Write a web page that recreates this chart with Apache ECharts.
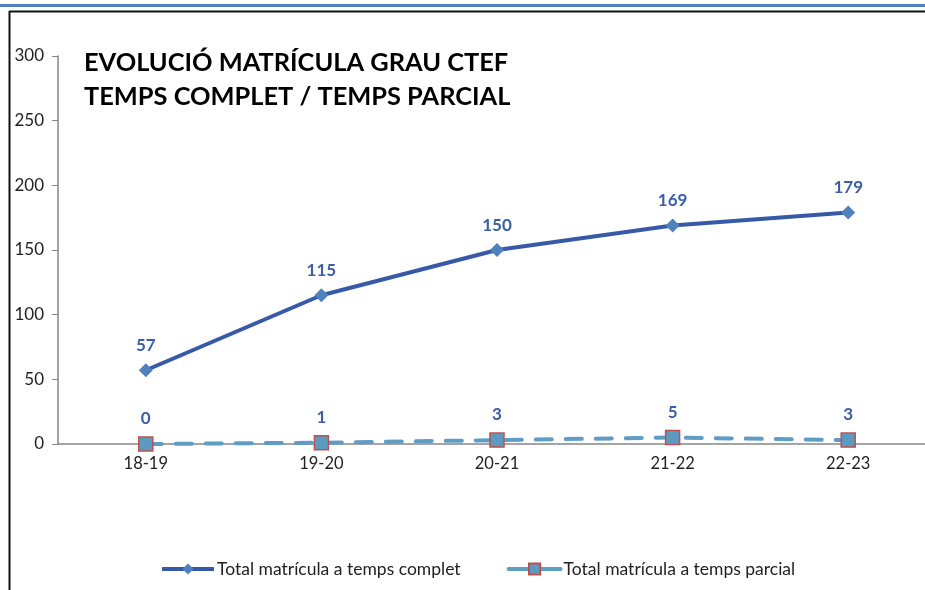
<!DOCTYPE html>
<html>
<head>
    <meta charset="utf-8">
    <title>Evolució matrícula grau CTEF</title>
    <script src="https://cdn.jsdelivr.net/npm/echarts@6/dist/echarts.min.js"></script>
    <style>
        html, body {margin: 0; padding: 0; background: #fff;}
        #main {width: 925px; height: 590px;}
    </style>
</head>
<body>
<div id="main"></div>

<script type="text/javascript">
    // dades
    var cursos = ['18-19', '19-20', '20-21', '21-22', '22-23'];
    var tempsComplet = [57, 115, 150, 169, 179];
    var tempsParcial = [0, 1, 3, 5, 3];
    var nomComplet = 'Total matrícula a temps complet';
    var nomParcial = 'Total matrícula a temps parcial';

    var chartDom = document.getElementById('main');
    var myChart = echarts.init(chartDom);
    var font = 'Lato, "Open Sans", sans-serif';
    var option;

    option = {
        animation: false,
        textStyle: {fontFamily: font},
        title: {
            text: 'EVOLUCIÓ MATRÍCULA GRAU CTEF\nTEMPS COMPLET / TEMPS PARCIAL',
            left: 79,
            top: 41,
            textStyle: {
                fontFamily: font,
                fontSize: 25.4,
                fontWeight: 'bold',
                color: '#000',
                lineHeight: 34
            }
        },
        graphic: [
            {type: 'rect', shape: {x: 0, y: 4, width: 925, height: 3}, style: {fill: '#4f81bd'}},
            {type: 'line', shape: {x1: 9, y1: 11.5, x2: 925, y2: 11.5}, style: {stroke: '#111', lineWidth: 2}},
            {type: 'line', shape: {x1: 9.5, y1: 11, x2: 9.5, y2: 590}, style: {stroke: '#111', lineWidth: 2}}
        ],
        legend: {
            bottom: 12,
            left: 160,
            padding: 0,
            itemWidth: 52,
            itemHeight: 14,
            itemGap: 46,
            textStyle: {fontFamily: font, fontSize: 17.5, color: '#222', padding: [0, 0, 0, -2]},
            data: [
                {name: nomComplet, lineStyle: {width: 4, color: '#3659a8'}},
                {name: nomParcial, lineStyle: {type: 'solid', width: 4, color: '#5f9cc6'}}
            ]
        },
        grid: {
            left: 58,
            width: 878,
            top: 56,
            bottom: 146,
            outerBoundsMode: 'none'
        },
        xAxis: {
            type: 'category',
            data: cursos,
            axisLine: {lineStyle: {color: '#868686', width: 1.5}},
            axisTick: {length: 6, lineStyle: {color: '#868686'}},
            axisLabel: {color: '#222', fontSize: 16.5, margin: 11, fontFamily: font}
        },
        yAxis: {
            type: 'value',
            min: 0,
            max: 300,
            interval: 50,
            splitLine: {show: false},
            axisLine: {show: true, lineStyle: {color: '#868686', width: 1.5}},
            axisTick: {show: true, length: 6, lineStyle: {color: '#868686'}},
            axisLabel: {color: '#222', fontSize: 17, margin: 14, fontFamily: font}
        },
        series: [
            {
                name: nomComplet,
                type: 'line',
                data: tempsComplet,
                symbol: 'diamond',
                symbolSize: 14,
                lineStyle: {color: '#3659a8', width: 4},
                itemStyle: {color: '#4f81bd'},
                label: {
                    show: true,
                    position: 'top',
                    distance: 9,
                    color: '#3a5ea8',
                    fontWeight: 'bold',
                    fontSize: 17,
                    fontFamily: font
                },
                z: 3
            },
            {
                name: nomParcial,
                type: 'line',
                data: tempsParcial,
                symbol: 'rect',
                symbolSize: 14,
                lineStyle: {color: '#5f9cc6', width: 4, type: [16, 14], cap: 'round'},
                itemStyle: {color: '#5b9bc2', borderColor: '#c0504d', borderWidth: 1.5},
                label: {
                    show: true,
                    position: 'top',
                    distance: 9,
                    color: '#3a5ea8',
                    fontWeight: 'bold',
                    fontSize: 17,
                    fontFamily: font
                },
                z: 2
            }
        ]
    };

    option && myChart.setOption(option);
</script>
</body>
</html>
